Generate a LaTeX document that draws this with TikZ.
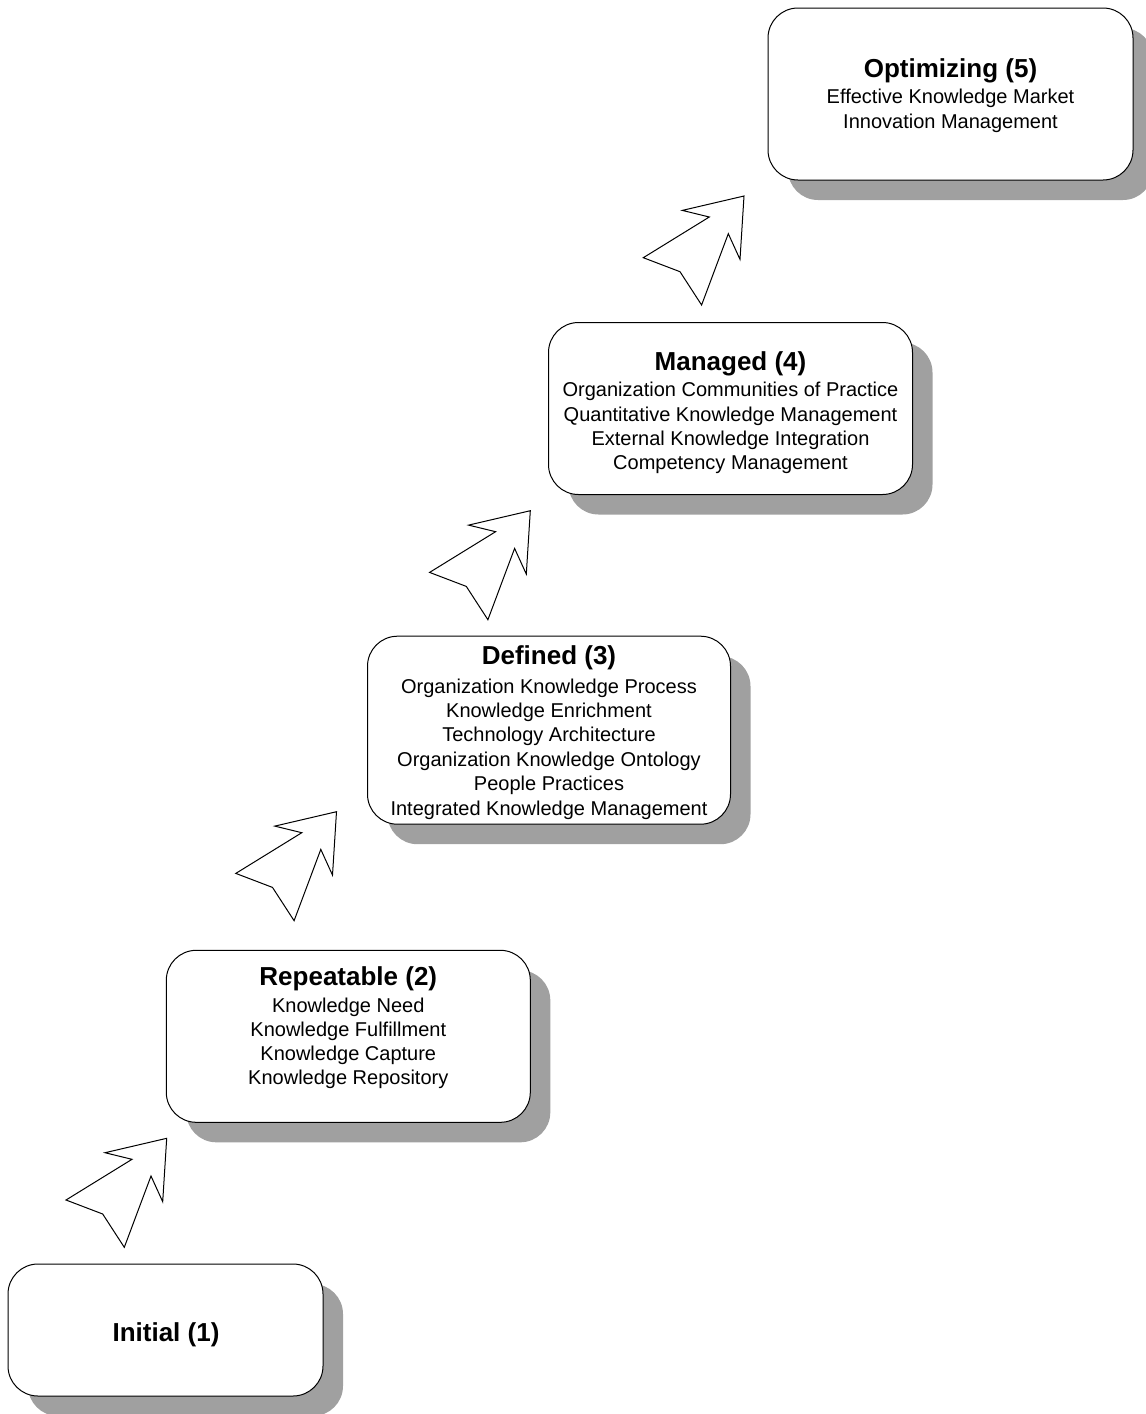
\documentclass[tikz,border=0pt]{standalone}
\usepackage{fontspec}
\setmainfont{Liberation Sans}
\usetikzlibrary{shadows}
\definecolor{shadowgray}{RGB}{160,160,160}
\tikzset{
  stagebox/.style={draw=black, line width=1pt, fill=white, rounded corners=30pt,
    inner sep=0pt,
    drop shadow={shadow xshift=20pt, shadow yshift=-20pt, fill=shadowgray, opacity=1}},
  stagetitle/.style={font=\fontsize{26}{30}\selectfont\bfseries, anchor=base, inner sep=0pt},
  stageitem/.style={font=\fontsize{20}{24}\selectfont, anchor=base, inner sep=0pt},
  stepper/.style={draw=black, line width=1pt, fill=white, line join=miter},
}
\begin{document}
\begin{tikzpicture}[x=1pt, y=-1pt]
\useasboundingbox (0,0) rectangle (1146,1414);

% stage boxes
\node[stagebox, minimum width=315pt, minimum height=132pt] (s1) at (165.5,1330) {};
\node[stagebox, minimum width=364pt, minimum height=172pt] (s2) at (348.3,1036.3) {};
\node[stagebox, minimum width=363pt, minimum height=188pt] (s3) at (549,730.2) {};
\node[stagebox, minimum width=364pt, minimum height=172pt] (s4) at (730.5,408.5) {};
\node[stagebox, minimum width=365pt, minimum height=172pt] (s5) at (950.5,94) {};

% step-up arrows between stages
\foreach \n/\tx/\ty in {1/166.7/1138.3, 2/336.5/811.7, 3/530.3/510.7, 4/744/196}
  \draw[stepper, shift={(\tx,\ty)}] (0,0) -- (-4,63.4) -- (-15.7,37.7) -- (-42.4,109)
    -- (-64,75.7) -- (-100.7,61.7) -- (-34.7,21) -- (-61.7,14.4) -- cycle;

% Initial
\node[stagetitle] (t1) at (166,1341) {Initial (1)};

% Repeatable
\node[stagetitle] (t2) at (348.3,985) {Repeatable (2)};
\foreach \s [count=\i] in {Knowledge Need, Knowledge Fulfillment, Knowledge Capture,
    Knowledge Repository}
  \node[stageitem] (t2-\i) at (348.3,{1012+(\i-1)*24.3}) {\s};

% Defined
\node[stagetitle] (t3) at (549,664) {Defined (3)};
\foreach \s [count=\i] in {Organization Knowledge Process, Knowledge Enrichment,
    Technology Architecture, Organization Knowledge Ontology, People Practices,
    Integrated Knowledge Management}
  \node[stageitem] (t3-\i) at (549,{693+(\i-1)*24.4}) {\s};

% Managed
\node[stagetitle] (t4) at (730.5,370) {Managed (4)};
\foreach \s [count=\i] in {Organization Communities of Practice,
    Quantitative Knowledge Management, External Knowledge Integration,
    Competency Management}
  \node[stageitem] (t4-\i) at (730.5,{396.7+(\i-1)*24.3}) {\s};

% Optimizing
\node[stagetitle] (t5) at (950.5,77) {Optimizing (5)};
\foreach \s [count=\i] in {Effective Knowledge Market, Innovation Management}
  \node[stageitem] (t5-\i) at (950.5,{103+(\i-1)*25}) {\s};
\end{tikzpicture}
\end{document}
